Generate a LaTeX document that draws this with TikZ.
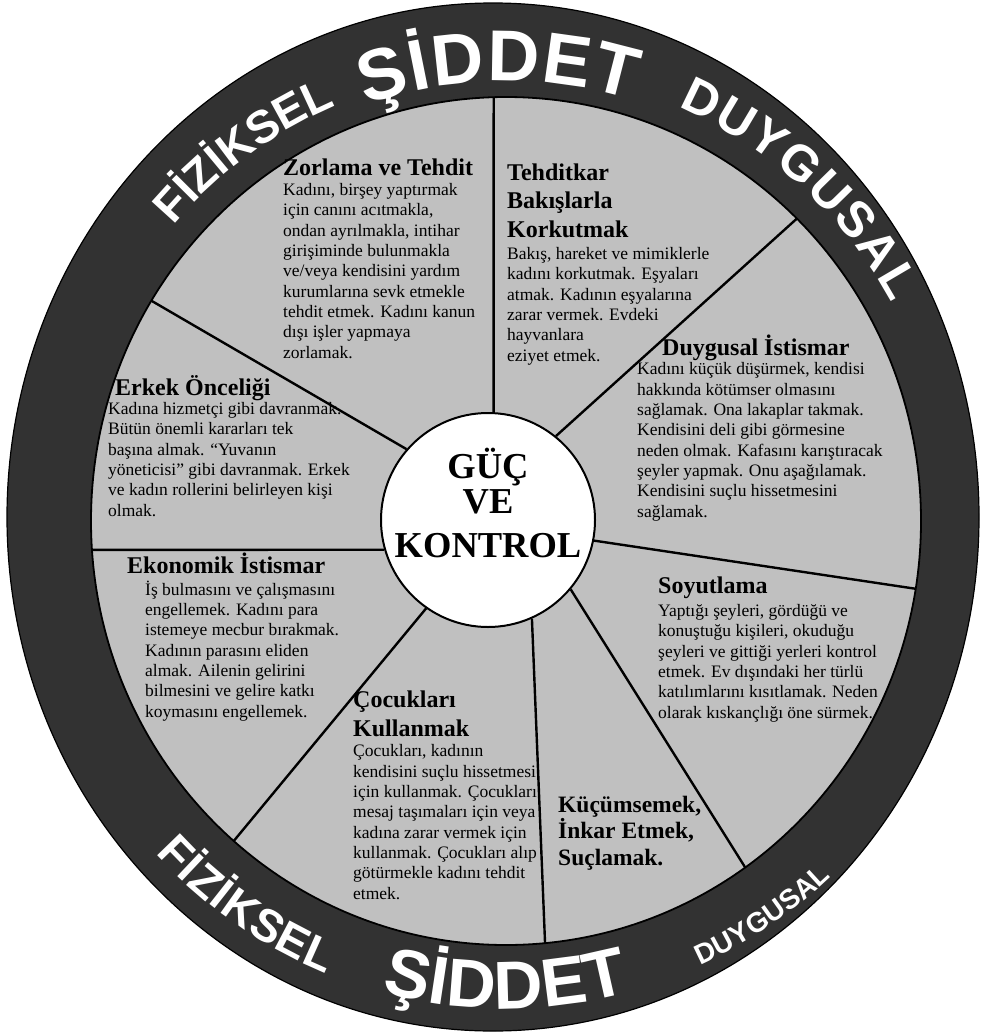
\documentclass[tikz,border=0pt]{standalone}
\usepackage{fontspec}
\setmainfont{Liberation Serif}
\setsansfont{Liberation Sans}
\usetikzlibrary{calc,decorations.text}

\definecolor{ringgrey}{RGB}{50,50,50}
\definecolor{wedgegrey}{RGB}{192,192,192}

% multi-line nodes sit on the baseline of their last line
\tikzset{
  spoke/.style={line width=2.4pt},
  heading/.style={anchor=base west, inner sep=0pt, align=left,
    font=\bfseries\fontsize{24}{28.5}\selectfont},
  bodytext/.style={anchor=base west, inner sep=0pt, align=left,
    font=\fontsize{17.5}{20.3}\selectfont},
  hubtext/.style={anchor=base, inner sep=0pt, font=\bfseries\fontsize{36.5}{40}\selectfont},
  ringtext/.style 2 args={decorate, decoration={text along path, text align=fit to path,
    text={|\sffamily\bfseries\fontsize{#1}{#1}\selectfont\color{white}|#2}}}
}

\begin{document}
\begin{tikzpicture}[x=1pt, y=-1pt]
  \useasboundingbox (0,0) rectangle (986,1036);
  \coordinate (oc) at (493,517);
  \coordinate (ic) at (506,521);

  % dark ring and grey wheel
  \filldraw[fill=ringgrey, draw=black, line width=1.2pt] (oc) ellipse [x radius=486, y radius=514];
  \filldraw[fill=wedgegrey, draw=black, line width=1.8pt] (ic) ellipse [x radius=415, y radius=424];

  % hub
  \node[circle, draw, fill=white, line width=2pt, minimum size=214pt, inner sep=0pt] (ctr) at (488,520) {};

  % spokes: hub border -> wheel border
  \foreach \n/\a/\t in {1/87/268.3, 2/51/314.5, 3/349/9.2, 4/320/54.8,
                        5/294/84.6, 6/235/131, 7/196/176.1, 8/139/211.3} {
    \coordinate (s\n) at ($(ic)+(\t:415 and 424)$);
    \draw[spoke] (ctr.\a) -- (s\n);
  }

  % ring words, top
  \path[ringtext={46}{FİZİKSEL}] ($(ic)+(221:441 and 450)$) arc[start angle=221, end angle=247, x radius=441, y radius=450];
  \path[ringtext={72}{ŞİDDET}] ($(ic)+(251:431 and 440)$) arc[start angle=251, end angle=287, x radius=431, y radius=440];
  \path[ringtext={50}{DUYGUSAL}] ($(ic)+(293:441 and 450)$) arc[start angle=293, end angle=331, x radius=441, y radius=450];
  % ring words, bottom
  \path[ringtext={46}{FİZİKSEL}] ($(ic)+(137:479 and 488)$) arc[start angle=137, end angle=112, x radius=479, y radius=488];
  \path[ringtext={68}{ŞİDDET}] ($(ic)+(105:479 and 488)$) arc[start angle=105, end angle=75, x radius=479, y radius=488];
  \path[ringtext={28}{DUYGUSAL}] ($(ic)+(66:477 and 486)$) arc[start angle=66, end angle=47, x radius=477, y radius=486];

  % hub text
  \node[hubtext] (guc) at ([yshift=42pt]ctr.center) {GÜÇ};
  \node[hubtext] (ve) at ([yshift=7pt]ctr.center) {VE};
  \node[hubtext] (kontrol) at ([yshift=-37pt]ctr.center) {KONTROL};

  % Zorlama ve Tehdit
  \node[heading] (zorT) at (283,175) {Zorlama ve Tehdit};
  \node[bodytext] (zorB) at (283,358) {Kadını, birşey yaptırmak\\ için canını acıtmakla,\\
    ondan ayrılmakla, intihar\\ girişiminde bulunmakla\\ ve/veya kendisini yardım\\
    kurumlarına sevk etmekle\\ tehdit etmek. Kadını kanun\\ dışı işler yapmaya\\ zorlamak.};

  % Tehditkar Bakislarla Korkutmak
  \node[heading] (tehT) at (507,237) {Tehditkar\\ Bakışlarla\\ Korkutmak};
  \node[bodytext] (tehB) at (507,361) {Bakış, hareket ve mimiklerle\\ kadını korkutmak. Eşyaları\\
    atmak. Kadının eşyalarına\\ zarar vermek. Evdeki\\ hayvanlara\\ eziyet etmek.};

  % Duygusal Istismar
  \node[heading] (duyT) at (662,355) {Duygusal İstismar};
  \node[bodytext] (duyB) at (637,517) {Kadını küçük düşürmek, kendisi\\ hakkında kötümser olmasını\\
    sağlamak. Ona lakaplar takmak.\\ Kendisini deli gibi görmesine\\ neden olmak. Kafasını karıştıracak\\
    şeyler yapmak. Onu aşağılamak.\\ Kendisini suçlu hissetmesini\\ sağlamak.};

  % Erkek Onceligi
  \node[heading] (erkT) at (115,395) {Erkek Önceliği};
  \node[bodytext] (erkB) at (108,516) {Kadına hizmetçi gibi davranmak.\\ Bütün önemli kararları tek\\
    başına almak. “Yuvanın\\ yöneticisi” gibi davranmak. Erkek\\ ve kadın rollerini belirleyen kişi\\ olmak.};

  % Ekonomik Istismar
  \node[heading] (ekoT) at (127,573) {Ekonomik İstismar};
  \node[bodytext] (ekoB) at (145,717) {İş bulmasını ve çalışmasını\\ engellemek. Kadını para\\
    istemeye mecbur bırakmak.\\ Kadının parasını eliden\\ almak. Ailenin gelirini\\
    bilmesini ve gelire katkı\\ koymasını engellemek.};

  % Soyutlama
  \node[heading] (soyT) at (658,593) {Soyutlama};
  \node[bodytext] (soyB) at (658,718) {Yaptığı şeyleri, gördüğü ve\\ konuştuğu kişileri, okuduğu\\
    şeyleri ve gittiği yerleri kontrol\\ etmek. Ev dışındaki her türlü\\
    katılımlarını kısıtlamak. Neden\\ olarak kıskançlığı öne sürmek.};

  % Cocuklari Kullanmak
  \node[heading] (cocT) at (353,736) {Çocukları\\ Kullanmak};
  \node[bodytext] (cocB) at (353,899) {Çocukları, kadının\\ kendisini suçlu hissetmesi\\
    için kullanmak. Çocukları\\ mesaj taşımaları için veya\\ kadına zarar vermek için\\
    kullanmak. Çocukları alıp\\ götürmekle kadını tehdit\\ etmek.};

  % Kucumsemek
  \node[heading, font=\bfseries\fontsize{23.5}{26.5}\selectfont] (kucT) at (558,865) {Küçümsemek,\\ İnkar Etmek,\\ Suçlamak.};
\end{tikzpicture}
\end{document}
